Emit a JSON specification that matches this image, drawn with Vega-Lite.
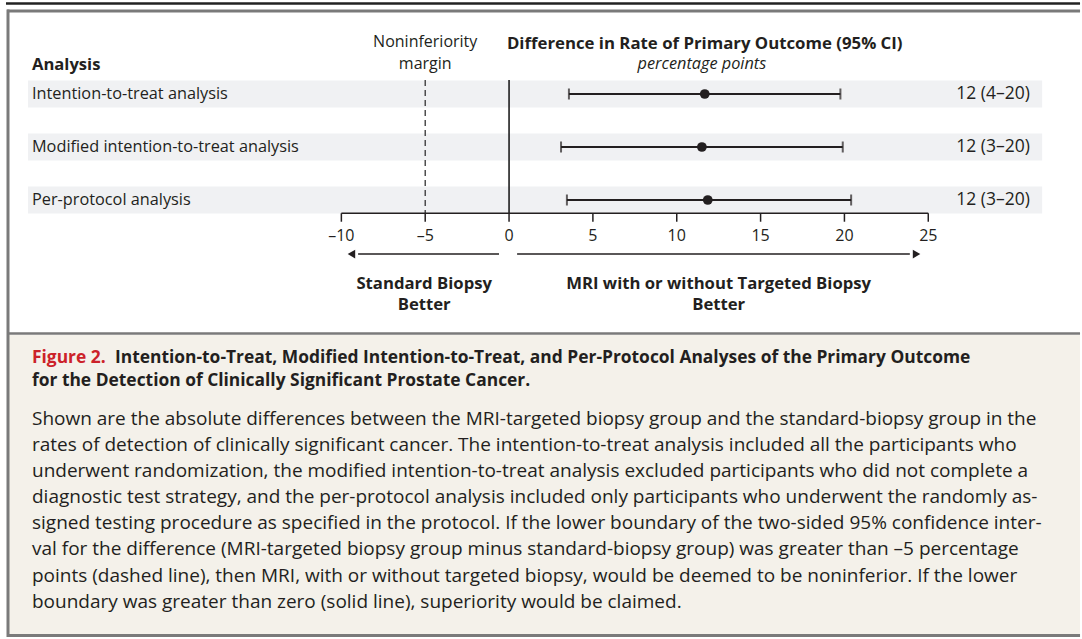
{
  "$schema": "https://vega.github.io/schema/vega-lite/v6.json",
  "width": 1082,
  "height": 639,
  "autosize": {"type": "fit", "contains": "padding"},
  "padding": 0,
  "background": "white",
  "config": {"view": {"stroke": null}, "text": {"font": "Open Sans", "color": "#231f20", "fontSize": 16.3}},
  "data": {"values": [
    {"analysis": "Intention-to-treat analysis", "row": 1, "est": 11.67, "lo": 3.57, "hi": 19.76, "label": "12 (4–20)"},
    {"analysis": "Modified intention-to-treat analysis", "row": 2, "est": 11.5, "lo": 3.1, "hi": 19.9, "label": "12 (3–20)"},
    {"analysis": "Per-protocol analysis", "row": 3, "est": 11.85, "lo": 3.45, "hi": 20.4, "label": "12 (3–20)"}
  ]},
  "layer": [
    {"data": {"values": [{}]}, "mark": {"type": "rect", "fill": "#f4f1ea"},
     "encoding": {
       "x": {"datum": -29.82, "type": "quantitative", "scale": {"domain": [-30.357, 34.048], "nice": false, "zero": false}, "axis": null},
       "x2": {"datum": 34.05},
       "y": {"datum": 5.547, "type": "quantitative", "scale": {"domain": [-0.7736, 11.283], "reverse": true, "nice": false, "zero": false}, "axis": null},
       "y2": {"datum": 11.19}}},
    {"data": {"values": [{}]}, "mark": {"type": "rule", "color": "#222222", "strokeWidth": 2.5},
     "encoding": {"x": {"datum": -30.0, "type": "quantitative"}, "x2": {"datum": 34.05}, "y": {"datum": -0.7075, "type": "quantitative"}}},
    {"data": {"values": [{}]}, "mark": {"type": "rule", "color": "#7a7a7a", "strokeWidth": 3},
     "encoding": {"x": {"datum": -29.93, "type": "quantitative"}, "x2": {"datum": 34.05}, "y": {"datum": -0.566, "type": "quantitative"}}},
    {"data": {"values": [{}]}, "mark": {"type": "rule", "color": "#7a7a7a", "strokeWidth": 3},
     "encoding": {"x": {"datum": -29.88, "type": "quantitative"}, "y": {"datum": -0.594, "type": "quantitative"}, "y2": {"datum": 11.245}}},
    {"data": {"values": [{}]}, "mark": {"type": "rule", "color": "#7a7a7a", "strokeWidth": 2.5},
     "encoding": {"x": {"datum": -29.93, "type": "quantitative"}, "x2": {"datum": 34.05}, "y": {"datum": 5.519, "type": "quantitative"}}},
    {"data": {"values": [{}]}, "mark": {"type": "rule", "color": "#7a7a7a", "strokeWidth": 3},
     "encoding": {"x": {"datum": -29.93, "type": "quantitative"}, "x2": {"datum": 34.05}, "y": {"datum": 11.217, "type": "quantitative"}}},
    {"mark": {"type": "rule", "color": "#f0f1f3", "strokeWidth": 27},
     "encoding": {"x": {"datum": -28.69, "type": "quantitative"}, "x2": {"datum": 31.79}, "y": {"field": "row", "type": "quantitative"}}},
    {"data": {"values": [{}]}, "mark": {"type": "rule", "color": "#111111", "strokeWidth": 1.5},
     "encoding": {"x": {"datum": 0, "type": "quantitative"}, "y": {"datum": 0.736, "type": "quantitative"}, "y2": {"datum": 3.25}}},
    {"data": {"values": [{}]}, "mark": {"type": "rule", "color": "#333333", "strokeWidth": 1.3, "strokeDash": [6, 4]},
     "encoding": {"x": {"datum": -5, "type": "quantitative"}, "y": {"datum": 0.736, "type": "quantitative"}, "y2": {"datum": 3.25}}},
    {"mark": {"type": "rule", "color": "#231f20", "strokeWidth": 2.2},
     "encoding": {"x": {"field": "lo", "type": "quantitative"}, "x2": {"field": "hi"}, "y": {"field": "row", "type": "quantitative"}}},
    {"mark": {"type": "tick", "orient": "vertical", "color": "#231f20", "size": 11, "thickness": 2},
     "encoding": {"x": {"field": "lo", "type": "quantitative"}, "y": {"field": "row", "type": "quantitative"}}},
    {"mark": {"type": "tick", "orient": "vertical", "color": "#231f20", "size": 11, "thickness": 2},
     "encoding": {"x": {"field": "hi", "type": "quantitative"}, "y": {"field": "row", "type": "quantitative"}}},
    {"mark": {"type": "point", "shape": "circle", "filled": true, "color": "#231f20", "opacity": 1, "size": 95},
     "encoding": {"x": {"field": "est", "type": "quantitative"}, "y": {"field": "row", "type": "quantitative"}}},
    {"mark": {"type": "text", "align": "left", "baseline": "middle"},
     "encoding": {"x": {"datum": -28.45, "type": "quantitative"}, "y": {"field": "row", "type": "quantitative"}, "text": {"field": "analysis"}}},
    {"mark": {"type": "text", "align": "left", "baseline": "middle", "fontSize": 17.5},
     "encoding": {"x": {"datum": 26.67, "type": "quantitative"}, "y": {"field": "row", "type": "quantitative"}, "text": {"field": "label"}}},
    {"data": {"values": [{}]}, "mark": {"type": "rule", "color": "#231f20", "strokeWidth": 1.5},
     "encoding": {"x": {"datum": -10, "type": "quantitative"}, "x2": {"datum": 25}, "y": {"datum": 3.25, "type": "quantitative"}}},
    {"data": {"values": [{"v": -10, "lab": "–10"}, {"v": -5, "lab": "–5"}, {"v": 0, "lab": "0"}, {"v": 5, "lab": "5"}, {"v": 10, "lab": "10"}, {"v": 15, "lab": "15"}, {"v": 20, "lab": "20"}, {"v": 25, "lab": "25"}]},
     "layer": [
       {"mark": {"type": "rule", "color": "#231f20", "strokeWidth": 1.5},
        "encoding": {"x": {"field": "v", "type": "quantitative"}, "y": {"datum": 3.25, "type": "quantitative"}, "y2": {"datum": 3.41}}},
       {"mark": {"type": "text", "align": "center", "baseline": "middle", "fontSize": 16},
        "encoding": {"x": {"field": "v", "type": "quantitative"}, "y": {"datum": 3.68, "type": "quantitative"}, "text": {"field": "lab"}}}
     ]},
    {"data": {"values": [{}]}, "mark": {"type": "rule", "color": "#231f20", "strokeWidth": 1.5},
     "encoding": {"x": {"datum": -0.6, "type": "quantitative"}, "x2": {"datum": -9.0}, "y": {"datum": 4.02, "type": "quantitative"}}},
    {"data": {"values": [{}]}, "mark": {"type": "rule", "color": "#231f20", "strokeWidth": 1.5},
     "encoding": {"x": {"datum": 0.48, "type": "quantitative"}, "x2": {"datum": 23.9}, "y": {"datum": 4.02, "type": "quantitative"}}},
    {"data": {"values": [{}]}, "mark": {"type": "point", "shape": "triangle-left", "filled": true, "color": "#231f20", "opacity": 1, "size": 75},
     "encoding": {"x": {"datum": -9.4, "type": "quantitative"}, "y": {"datum": 4.02, "type": "quantitative"}}},
    {"data": {"values": [{}]}, "mark": {"type": "point", "shape": "triangle-right", "filled": true, "color": "#231f20", "opacity": 1, "size": 75},
     "encoding": {"x": {"datum": 24.3, "type": "quantitative"}, "y": {"datum": 4.02, "type": "quantitative"}}},
    {"data": {"values": [{}]}, "mark": {"type": "text", "align": "left", "baseline": "alphabetic", "fontWeight": "bold", "fontSize": 16.6, "text": "Analysis"},
     "encoding": {"x": {"datum": -28.45, "type": "quantitative"}, "y": {"datum": 0.547, "type": "quantitative"}}},
    {"data": {"values": [{}]}, "mark": {"type": "text", "align": "center", "baseline": "alphabetic", "fontSize": 16, "text": "Noninferiority"},
     "encoding": {"x": {"datum": -5, "type": "quantitative"}, "y": {"datum": 0.1226, "type": "quantitative"}}},
    {"data": {"values": [{}]}, "mark": {"type": "text", "align": "center", "baseline": "alphabetic", "fontSize": 16, "text": "margin"},
     "encoding": {"x": {"datum": -5, "type": "quantitative"}, "y": {"datum": 0.5189, "type": "quantitative"}}},
    {"data": {"values": [{}]}, "mark": {"type": "text", "align": "center", "baseline": "alphabetic", "fontWeight": "bold", "fontSize": 16.8, "text": "Difference in Rate of Primary Outcome (95% CI)"},
     "encoding": {"x": {"datum": 11.67, "type": "quantitative"}, "y": {"datum": 0.151, "type": "quantitative"}}},
    {"data": {"values": [{}]}, "mark": {"type": "text", "align": "center", "baseline": "alphabetic", "fontStyle": "italic", "text": "percentage points"},
     "encoding": {"x": {"datum": 11.5, "type": "quantitative"}, "y": {"datum": 0.528, "type": "quantitative"}}},
    {"data": {"values": [{}]}, "mark": {"type": "text", "align": "center", "baseline": "alphabetic", "fontWeight": "bold", "fontSize": 16.7, "lineHeight": 21, "text": ["Standard Biopsy", "Better"]},
     "encoding": {"x": {"datum": -5.06, "type": "quantitative"}, "y": {"datum": 4.679, "type": "quantitative"}}},
    {"data": {"values": [{}]}, "mark": {"type": "text", "align": "center", "baseline": "alphabetic", "fontWeight": "bold", "fontSize": 16.7, "lineHeight": 21, "text": ["MRI with or without Targeted Biopsy", "Better"]},
     "encoding": {"x": {"datum": 12.5, "type": "quantitative"}, "y": {"datum": 4.679, "type": "quantitative"}}},
    {"data": {"values": [{}]}, "mark": {"type": "text", "align": "left", "baseline": "alphabetic", "fontWeight": "bold", "fontSize": 17.4, "color": "#cc2229", "text": "Figure 2."},
     "encoding": {"x": {"datum": -28.45, "type": "quantitative"}, "y": {"datum": 6.075, "type": "quantitative"}}},
    {"data": {"values": [{}]}, "mark": {"type": "text", "align": "left", "baseline": "alphabetic", "fontWeight": "bold", "fontSize": 17.4, "text": "Intention-to-Treat, Modified Intention-to-Treat, and Per-Protocol Analyses of the Primary Outcome"},
     "encoding": {"x": {"datum": -23.5, "type": "quantitative"}, "y": {"datum": 6.075, "type": "quantitative"}}},
    {"data": {"values": [{}]}, "mark": {"type": "text", "align": "left", "baseline": "alphabetic", "fontWeight": "bold", "fontSize": 17.4, "text": "for the Detection of Clinically Significant Prostate Cancer."},
     "encoding": {"x": {"datum": -28.45, "type": "quantitative"}, "y": {"datum": 6.509, "type": "quantitative"}}},
    {"data": {"values": [{}]}, "mark": {"type": "text", "align": "left", "baseline": "alphabetic", "fontSize": 19, "lineHeight": 26.1, "text": [
       "Shown are the absolute differences between the MRI-targeted biopsy group and the standard-biopsy group in the",
       "rates of detection of clinically significant cancer. The intention-to-treat analysis included all the participants who",
       "underwent randomization, the modified intention-to-treat analysis excluded participants who did not complete a",
       "diagnostic test strategy, and the per-protocol analysis included only participants who underwent the randomly as-",
       "signed testing procedure as specified in the protocol. If the lower boundary of the two-sided 95% confidence inter-",
       "val for the difference (MRI-targeted biopsy group minus standard-biopsy group) was greater than –5 percentage",
       "points (dashed line), then MRI, with or without targeted biopsy, would be deemed to be noninferior. If the lower",
       "boundary was greater than zero (solid line), superiority would be claimed."]},
     "encoding": {"x": {"datum": -28.45, "type": "quantitative"}, "y": {"datum": 7.245, "type": "quantitative"}}}
  ]
}
